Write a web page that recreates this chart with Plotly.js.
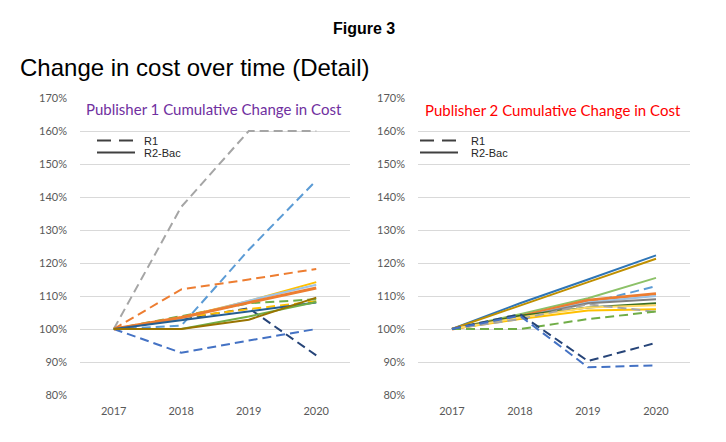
<!DOCTYPE html>
<html>
<head>
<meta charset="utf-8">
<script src="https://cdn.plot.ly/plotly-3.0.1.min.js"></script>
<style>html,body{margin:0;padding:0;background:#fff;}#chart{width:726px;height:442px;}</style>
</head>
<body>
<div id="chart"></div>
<script>
// ---------- data ----------
const years = ["2017", "2018", "2019", "2020"];
const yTicks = [80, 90, 100, 110, 120, 130, 140, 150, 160, 170];

// Publisher 1 (values in %)
const p1Names  = ["R1 a", "R1 b", "R1 c", "R1 d", "R1 e", "R1 f", "R1 g",
                  "R2-Bac a", "R2-Bac b", "R2-Bac c", "R2-Bac d", "R2-Bac e", "R2-Bac f"];
const p1Dash   = ["dash","dash","dash","dash","dash","dash","dash",
                  "solid","solid","solid","solid","solid","solid"];
const p1Colors = ["#A5A5A5","#5B9BD5","#ED7D31","#264478","#4472C4","#FFC000","#70AD47",
                  "#FFC000","#9DC3E6","#ED7D31","#255E91","#70AD47","#997300"];
const p1Values = [
  [100, 137.0, 160.0, 160.0],
  [100, 101.0, 124.0, 145.0],
  [100, 112.0, 115.0, 118.2],
  [100, 103.0, 106.3,  92.0],
  [100,  92.8,  96.5, 100.0],
  [100, 103.5, 106.0, 108.4],
  [100, 104.0, 107.8, 109.0],
  [100, 103.5, 108.5, 114.2],
  [100, 103.2, 108.6, 113.4],
  [100, 103.5, 108.0, 112.4],
  [100, 102.7, 105.5, 108.0],
  [100, 100.0, 103.8, 108.2],
  [100, 100.0, 102.8, 109.5]
];

// Publisher 2 (values in %)
const p2Names  = ["R2-Bac a", "R2-Bac b", "R2-Bac c", "R1 a", "R2-Bac d", "R2-Bac e", "R2-Bac f",
                  "R2-Bac g", "R2-Bac h", "R2-Bac i", "R1 b", "R1 c", "R1 d", "R1 e"];
const p2Dash   = ["solid","solid","solid","dash","solid","solid","solid",
                  "solid","solid","solid","dash","dash","dash","dash"];
const p2Colors = ["#2E75B6","#BF8F00","#8CC168","#5B9BD5","#ED7D31","#9DC3E6","#7F7F7F",
                  "#3B6E22","#FFC000","#FFD966","#A5A5A5","#70AD47","#264478","#4472C4"];
const p2Values = [
  [100, 107.8, 115.0, 122.3],
  [100, 107.2, 114.2, 121.3],
  [100, 104.5, 109.3, 115.5],
  [100, 104.0, 107.8, 113.0],
  [100, 103.8, 108.7, 110.7],
  [100, 103.5, 108.0, 110.0],
  [100, 103.5, 107.8, 109.0],
  [100, 104.0, 106.5, 107.8],
  [100, 103.0, 105.6, 106.0],
  [100, 103.5, 106.5, 107.2],
  [100, 103.0, 107.5, 105.2],
  [100, 100.0, 103.0, 105.3],
  [100, 104.5,  90.3,  95.8],
  [100, 104.0,  88.4,  89.0]
];

const legendNames = ["R1", "R2-Bac"];
const legendDash  = ["dash", "solid"];

const titleMain = "Change in cost over time (Detail)";
const titleFig  = "Figure 3";
const title1 = "Publisher 1 Cumulative Change in Cost";
const title2 = "Publisher 2 Cumulative Change in Cost";

// ---------- build ----------
const W = 726, H = 442;
const DASH = "9px,5px";
const traces = [];

function addSeries(names, dashes, colors, values, xa, ya) {
  for (let i = 0; i < values.length; i++) {
    const thick = colors[i] === "#ED7D31" && dashes[i] === "solid";
    traces.push({
      type: "scatter", mode: "lines",
      x: years, y: values[i], xaxis: xa, yaxis: ya,
      name: names[i], showlegend: false, hoverinfo: "skip",
      line: {color: colors[i], width: thick ? 3 : 2, dash: dashes[i] === "dash" ? DASH : "solid"}
    });
  }
}
addSeries(p1Names, p1Dash, p1Colors, p1Values, "x", "y");
addSeries(p2Names, p2Dash, p2Colors, p2Values, "x2", "y2");

const tickFont = {family: "Lato, 'Liberation Sans', sans-serif", size: 11, color: "#595959"};
function xAxis(d0, d1, anchor) {
  return {domain: [d0 / W, d1 / W], anchor: anchor, type: "category",
    range: [-0.5, 3.5], showgrid: false, zeroline: false, showline: false,
    ticks: "", tickfont: tickFont, ticklabelstandoff: 8, fixedrange: true};
}
function yAxis(anchor) {
  return {domain: [1 - 395 / H, 1 - 98 / H], anchor: anchor, range: [80, 170],
    tickmode: "array", tickvals: yTicks, ticktext: yTicks.map(v => v + "%"),
    showgrid: true, gridcolor: "#D9D9D9", gridwidth: 1, zeroline: false, showline: false,
    ticks: "", tickfont: tickFont, ticklabelstandoff: 12, fixedrange: true};
}

// legend keys (drawn in paper space, one block per panel)
const shapes = [];
const annotations = [];
const legendFont = {family: "Arial, 'Liberation Sans', sans-serif", size: 11, color: "#262626"};
const legendBlocks = [{x0: 97, x1: 135, tx: 142}, {x0: 420, x1: 458, tx: 469}];
const legendRows = [140.5, 152.5];
legendBlocks.forEach(b => {
  legendNames.forEach((nm, j) => {
    const yp = 1 - legendRows[j] / H;
    shapes.push({type: "line", xref: "paper", yref: "paper",
      x0: b.x0 / W, x1: b.x1 / W, y0: yp, y1: yp,
      line: {color: "#404040", width: 2, dash: legendDash[j] === "dash" ? "14px,8px" : "solid"}});
    annotations.push({text: nm, xref: "paper", yref: "paper", x: b.tx / W, y: yp,
      xanchor: "left", yanchor: "middle", showarrow: false, font: legendFont});
  });
});

annotations.push(
  {text: "<b>" + titleFig + "</b>", xref: "paper", yref: "paper", x: 364 / W, y: 1 - 29 / H,
   xanchor: "center", yanchor: "middle", showarrow: false,
   font: {family: "Arial, 'Liberation Sans', sans-serif", size: 16, color: "#000"}},
  {text: titleMain, xref: "paper", yref: "paper", x: 18 / W, y: 1 - 67 / H,
   xanchor: "left", yanchor: "middle", showarrow: false,
   font: {family: "Arial, 'Liberation Sans', sans-serif", size: 24, color: "#000"}},
  {text: title1, xref: "paper", yref: "paper", x: 214 / W, y: 1 - 109 / H,
   xanchor: "center", yanchor: "middle", showarrow: false,
   font: {family: "Lato, 'Liberation Sans', sans-serif", size: 15, color: "#7030A0"}},
  {text: title2, xref: "paper", yref: "paper", x: 553 / W, y: 1 - 110 / H,
   xanchor: "center", yanchor: "middle", showarrow: false,
   font: {family: "Lato, 'Liberation Sans', sans-serif", size: 15, color: "#FF0000"}}
);

const layout = {
  width: W, height: H,
  margin: {l: 0, r: 0, t: 0, b: 0},
  paper_bgcolor: "#ffffff", plot_bgcolor: "#ffffff",
  showlegend: false,
  xaxis: xAxis(80, 350, "y"),
  yaxis: yAxis("x"),
  xaxis2: xAxis(418, 690, "y2"),
  yaxis2: yAxis("x2"),
  shapes: shapes,
  annotations: annotations
};

Plotly.newPlot("chart", traces, layout, {staticPlot: true, displayModeBar: false});
</script>
</body>
</html>
